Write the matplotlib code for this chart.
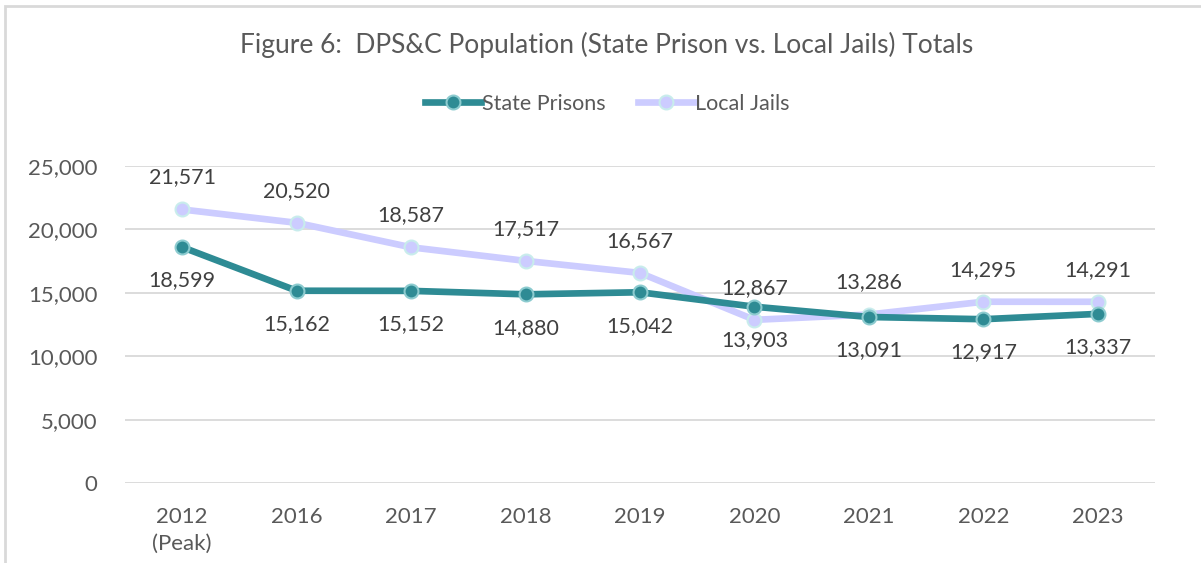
import matplotlib
matplotlib.use("Agg")
import matplotlib.pyplot as plt
from matplotlib.patches import Rectangle

years = ["2012\n(Peak)", "2016", "2017", "2018", "2019", "2020", "2021", "2022", "2023"]
state_prisons = [18599, 15162, 15152, 14880, 15042, 13903, 13091, 12917, 13337]
local_jails = [21571, 20520, 18587, 17517, 16567, 12867, 13286, 14295, 14291]
y_ticks = [0, 5000, 10000, 15000, 20000, 25000]

TEAL = "#2E8B94"
LAVENDER = "#CCCCFF"
TEXT = "#595959"
GRID = "#D9D9D9"

plt.rcParams["font.family"] = ["Lato", "DejaVu Sans"]

fig = plt.figure(figsize=(12.01, 5.63), dpi=100)
fig.patches.append(Rectangle((5 / 1201, -0.1), 1.2, (563 - 6) / 563 + 0.1,
                             transform=fig.transFigure, fill=False,
                             edgecolor="#D9D9D9", linewidth=2))

ax = fig.add_axes([125 / 1201, 80 / 563, 1030 / 1201, 317 / 563])
x = list(range(len(years)))

ax.plot(x, local_jails, color=LAVENDER, linewidth=4.8, marker="o", markersize=10,
        markerfacecolor=LAVENDER, markeredgecolor="#C8ECEC", markeredgewidth=1.5,
        label="Local Jails", clip_on=False, zorder=3)
ax.plot(x, state_prisons, color=TEAL, linewidth=4.8, marker="o", markersize=10,
        markerfacecolor=TEAL, markeredgecolor="#8CCBCF", markeredgewidth=1.5,
        label="State Prisons", clip_on=False, zorder=4)

for i in x:
    ax.annotate(f"{local_jails[i]:,}", (i, local_jails[i]), xytext=(0, 23),
                textcoords="offset points", ha="center", va="center",
                fontsize=15.5, color="#404040")
    ax.annotate(f"{state_prisons[i]:,}", (i, state_prisons[i]), xytext=(0, -24),
                textcoords="offset points", ha="center", va="center",
                fontsize=15.5, color="#404040")

ax.set_xlim(-0.5, len(years) - 0.5)
ax.set_ylim(0, 25000)
ax.set_yticks(y_ticks)
ax.set_yticklabels([f"{v:,}" for v in y_ticks])
ax.set_xticks(x)
ax.set_xticklabels(years, linespacing=1.45, va="top")
ax.tick_params(axis="both", length=0, labelsize=16, colors=TEXT)
ax.tick_params(axis="y", pad=20)
ax.tick_params(axis="x", pad=17)
ax.grid(axis="y", color=GRID, linewidth=1.3)
ax.set_axisbelow(True)
for s in ax.spines.values():
    s.set_visible(False)

fig.text(0.505, 1 - 45 / 563, "Figure 6:  DPS&C Population (State Prison vs. Local Jails) Totals",
         ha="center", va="center", fontsize=19, color=TEXT)

handles, labels = ax.get_legend_handles_labels()
fig.legend(handles[::-1], labels[::-1], loc="center", bbox_to_anchor=(0.506, 1 - 104 / 563),
           ncol=2, frameon=False, fontsize=15.5, labelcolor=TEXT,
           handlelength=2.6, handletextpad=0.05, columnspacing=1.5)

fig.savefig("out.png", dpi=100)
